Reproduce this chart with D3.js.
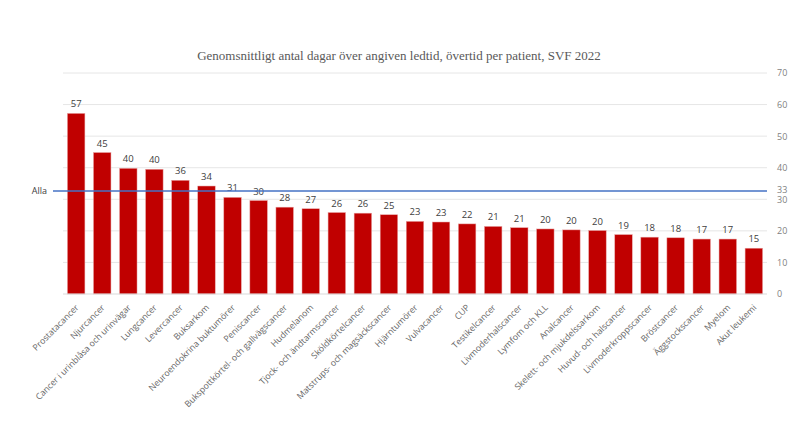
<!DOCTYPE html>
<html>
<head>
<meta charset="utf-8">
<script src="https://cdn.jsdelivr.net/npm/d3@7"></script>
<style>
  html, body { margin: 0; padding: 0; background: #fff; overflow: hidden; }
  svg { display: block; }
</style>
</head>
<body>
<svg id="chart"></svg>
<script>
const categories = [
  "Prostatacancer", "Njurcancer", "Cancer i urinblåsa och urinvägar", "Lungcancer",
  "Levercancer", "Buksarkom", "Neuroendokrina buktumörer", "Peniscancer",
  "Bukspottkörtel- och gallvägscancer", "Hudmelanom", "Tjock- och ändtarmscancer",
  "Sköldkörtelcancer", "Matstrups- och magsäckscancer", "Hjärntumörer", "Vulvacancer",
  "CUP", "Testikelcancer", "Livmoderhalscancer", "Lymfom och KLL", "Analcancer",
  "Skelett- och mjukdelssarkom", "Huvud- och halscancer", "Livmoderkroppscancer",
  "Bröstcancer", "Äggstockscancer", "Myelom", "Akut leukemi"
];
const values = [
  57.2, 44.8, 39.8, 39.5, 36.0, 34.2, 30.6, 29.6, 27.5, 27.0, 25.8, 25.6, 25.1,
  23.0, 22.8, 22.2, 21.4, 21.0, 20.6, 20.3, 20.1, 18.8, 18.0, 17.8, 17.4, 17.4, 14.5
];
const valueLabels = [
  57, 45, 40, 40, 36, 34, 31, 30, 28, 27, 26, 26, 25,
  23, 23, 22, 21, 21, 20, 20, 20, 19, 18, 18, 17, 17, 15
];
const average = 32.6;
const averageLabel = "Alla";
const yTicks = [0, 10, 20, 30, 40, 50, 60, 70];
const title = "Genomsnittligt antal dagar över angiven ledtid, övertid per patient, SVF 2022";

const width = 800, height = 448;
const margin = { top: 73, right: 33, bottom: 154, left: 63 };
const innerWidth = width - margin.left - margin.right;
const innerHeight = height - margin.top - margin.bottom;
const sans = "'Open Sans', 'Liberation Sans', sans-serif";

const svg = d3.select("#chart").attr("width", width).attr("height", height);

svg.append("text")
  .attr("x", 399)
  .attr("y", 60)
  .attr("text-anchor", "middle")
  .attr("font-family", "'Liberation Serif', 'DejaVu Serif', serif")
  .attr("font-size", 13)
  .attr("fill", "#595959")
  .text(title);

const chart = svg.append("g")
  .attr("transform", `translate(${margin.left}, ${margin.top})`);

const x = d3.scaleBand()
  .domain(categories)
  .range([0, innerWidth])
  .paddingInner(0.33)
  .paddingOuter(0.17);

const y = d3.scaleLinear()
  .domain([0, 70])
  .range([innerHeight, 0]);

// gridlines
chart.append("g")
  .selectAll("line")
  .data(yTicks.filter(d => d > 0))
  .join("line")
  .attr("x1", 0)
  .attr("x2", innerWidth)
  .attr("y1", d => y(d))
  .attr("y2", d => y(d))
  .attr("stroke", "#e6e6e6")
  .attr("stroke-width", 1);

// right axis
const yAxis = chart.append("g")
  .attr("transform", `translate(${innerWidth}, 0)`)
  .call(d3.axisRight(y).tickValues(yTicks).tickSize(0).tickPadding(10));
yAxis.select(".domain").remove();
yAxis.selectAll("text")
  .attr("font-family", sans)
  .attr("font-size", 9)
  .attr("fill", "#7f7f7f");

// bars
chart.append("g")
  .selectAll("rect")
  .data(values)
  .join("rect")
  .attr("x", (d, i) => x(categories[i]))
  .attr("y", d => y(d))
  .attr("width", x.bandwidth())
  .attr("height", d => innerHeight - y(d))
  .attr("fill", "#c00000")
  .attr("stroke", "#e8a0a0")
  .attr("stroke-width", 0.5);

// baseline
chart.append("line")
  .attr("x1", 0)
  .attr("x2", innerWidth)
  .attr("y1", innerHeight)
  .attr("y2", innerHeight)
  .attr("stroke", "#d9d9d9")
  .attr("stroke-width", 1);

// value labels
chart.append("g")
  .selectAll("text")
  .data(valueLabels)
  .join("text")
  .attr("x", (d, i) => x(categories[i]) + x.bandwidth() / 2)
  .attr("y", (d, i) => y(values[i]) - 6)
  .attr("text-anchor", "middle")
  .attr("font-family", sans)
  .attr("font-size", 9.5)
  .attr("fill", "#404040")
  .text(d => d);

// category labels
chart.append("g")
  .selectAll("text")
  .data(categories)
  .join("text")
  .attr("transform", d => `translate(${x(d) + x.bandwidth() / 2 + 1}, ${innerHeight + 12}) rotate(-45)`)
  .attr("text-anchor", "end")
  .attr("dy", "0.35em")
  .attr("font-family", sans)
  .attr("font-size", 8.7)
  .attr("fill", "#666666")
  .text(d => d);

// average line
chart.append("line")
  .attr("x1", -10)
  .attr("x2", innerWidth)
  .attr("y1", y(average))
  .attr("y2", y(average))
  .attr("stroke", "#4472c4")
  .attr("stroke-width", 1.5);

chart.append("text")
  .attr("x", -16)
  .attr("y", y(average))
  .attr("dy", "0.35em")
  .attr("text-anchor", "end")
  .attr("font-family", sans)
  .attr("font-size", 9)
  .attr("fill", "#404040")
  .text(averageLabel);

chart.append("text")
  .attr("x", innerWidth + 10)
  .attr("y", y(average))
  .attr("dy", "0.2em")
  .attr("font-family", sans)
  .attr("font-size", 9)
  .attr("fill", "#7f7f7f")
  .text(Math.round(average));
</script>
</body>
</html>
